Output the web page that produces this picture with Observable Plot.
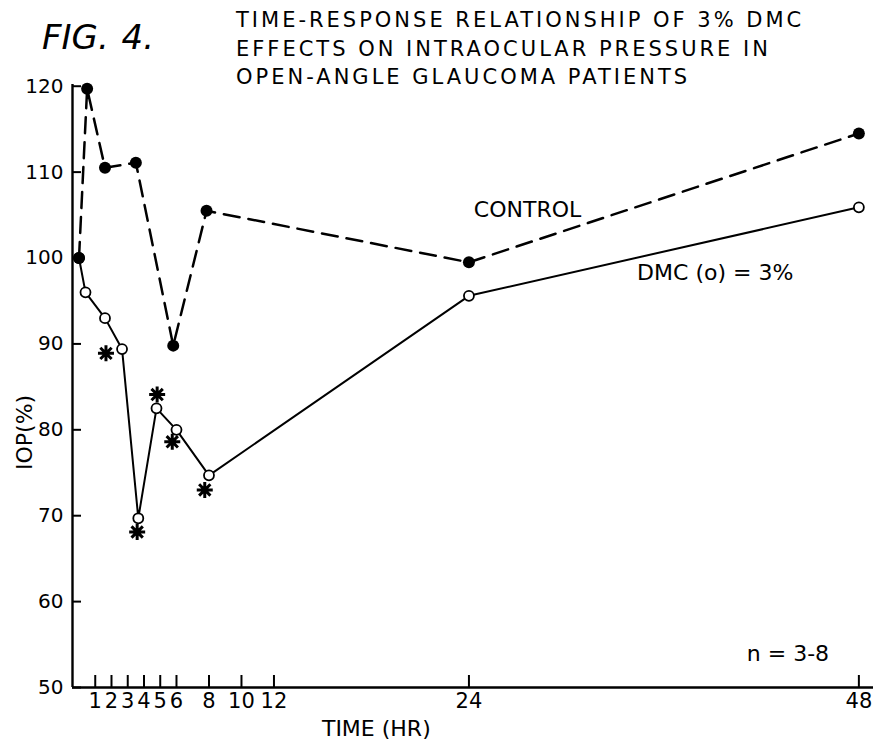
<!DOCTYPE html>
<html>
<head>
<meta charset="utf-8">
<script src="https://cdn.jsdelivr.net/npm/d3@7"></script>
<script src="https://cdn.jsdelivr.net/npm/@observablehq/plot@0.6"></script>
<style>
  body { margin: 0; background: #fff; }
  #fig { position: relative; width: 880px; height: 743px; overflow: hidden; font-family: "DejaVu Sans", sans-serif; color: #000; background: #fff; }
  #chart { position: absolute; left: 0; top: 0; }
  #figlabel { position: absolute; left: 42px; top: 20px; font-size: 34px; line-height: 34px; font-style: italic; font-weight: 300; word-spacing: 2px; white-space: nowrap; }
  #title { position: absolute; left: 236px; top: 6px; font-size: 21px; line-height: 28.5px; letter-spacing: 3px; white-space: nowrap; }
</style>
</head>
<body>
<div id="fig">
  <div id="chart"></div>
  <div id="figlabel">FIG. 4.</div>
  <div id="title">TIME-RESPONSE RELATIONSHIP OF 3% DMC<br>EFFECTS ON INTRAOCULAR PRESSURE IN<br>OPEN-ANGLE GLAUCOMA PATIENTS</div>
</div>
<script>
// ---- data ----
const controlTime = [0, 0.5, 1.6, 3.5, 5.8, 7.85, 24, 48];
const controlIOP  = [100, 119.7, 110.5, 111.1, 89.8, 105.5, 99.5, 114.5];

const dmcTime = [0, 0.4, 1.6, 2.65, 3.65, 4.77, 6, 8, 24, 48];
const dmcIOP  = [100, 96.0, 93.0, 89.4, 69.7, 82.5, 80.0, 74.7, 95.6, 105.9];

// significance asterisks
const sigTime = [1.66, 3.58, 4.81, 5.74, 7.74];
const sigIOP  = [88.9, 68.1, 84.1, 78.6, 73.0];

const xTicks = [1, 2, 3, 4, 5, 6, 8, 10, 12, 24, 48];
const yTicks = [50, 60, 70, 80, 90, 100, 110, 120];

// in-plot annotations (positions in data units)
const noteText = ["CONTROL", "DMC (o) = 3%", "n = 3-8"];
const noteTime = [24.3, 34.35, 41.1];
const noteIOP  = [104.8, 97.4, 53.1];

const xTitle = "TIME (HR)";
const xTitleTime = 18.3;
const yTitle = "IOP(%)";
const yTitleIOP = 79.7;

// ---- build tables ----
const control = controlTime.map((t, i) => ({t, v: controlIOP[i]}));
const dmc = dmcTime.map((t, i) => ({t, v: dmcIOP[i]}));
const sig = sigTime.map((t, i) => ({t, v: sigIOP[i]}));
const notes = noteText.map((s, i) => ({s, t: noteTime[i], v: noteIOP[i]}));

// 8-armed asterisk symbol
const asterisk8 = {
  draw(ctx, size) {
    const r = Math.sqrt(size / Math.PI);
    for (let k = 0; k < 4; k++) {
      const a = k * Math.PI / 4;
      const c = r * Math.cos(a), s = r * Math.sin(a);
      ctx.moveTo(c, s);
      ctx.lineTo(-c, -s);
    }
  }
};

const font = "DejaVu Sans, sans-serif";
const xMin = -0.4, xMax = 48.9;

const chart = Plot.plot({
  width: 880,
  height: 743,
  marginLeft: 72,
  marginRight: 7,
  marginTop: 84,
  marginBottom: 56,
  style: {fontFamily: font, color: "#000", background: "transparent"},
  x: {domain: [xMin, xMax], axis: null},
  y: {domain: [50, 120.2], axis: null},
  marks: [
    Plot.ruleX([xMin], {stroke: "#000", strokeWidth: 2.4}),
    Plot.ruleY([50], {stroke: "#000", strokeWidth: 2.4}),
    Plot.axisY(yTicks, {anchor: "left", label: null, tickSize: -9, tickPadding: 18, fontSize: 20, strokeWidth: 2, fontFamily: font}),
    Plot.axisX(xTicks, {anchor: "bottom", label: null, tickSize: -12, tickPadding: 18, fontSize: 21, strokeWidth: 2, fontFamily: font}),
    Plot.line(control, {x: "t", y: "v", stroke: "#000", strokeWidth: 2.5, strokeDasharray: "16,9"}),
    Plot.line(dmc, {x: "t", y: "v", stroke: "#000", strokeWidth: 2}),
    Plot.dot(dmc, {x: "t", y: "v", r: 5, fill: "#fff", stroke: "#000", strokeWidth: 1.8}),
    Plot.dot(control, {x: "t", y: "v", r: 6, fill: "#000", stroke: "none"}),
    Plot.dot(sig, {x: "t", y: "v", symbol: asterisk8, r: 8, fill: "none", stroke: "#000", strokeWidth: 3}),
    Plot.text(notes, {x: "t", y: "v", text: "s", textAnchor: "start", lineAnchor: "bottom", fontSize: 22, fontFamily: font}),
    Plot.text([xTitle], {x: [xTitleTime], frameAnchor: "bottom", lineAnchor: "bottom", dy: 48, fontSize: 22, fontFamily: font}),
    Plot.text([yTitle], {x: [xMin], y: [yTitleIOP], rotate: -90, dx: -48, fontSize: 22, fontFamily: font})
  ]
});
document.getElementById("chart").appendChild(chart);
</script>
</body>
</html>
